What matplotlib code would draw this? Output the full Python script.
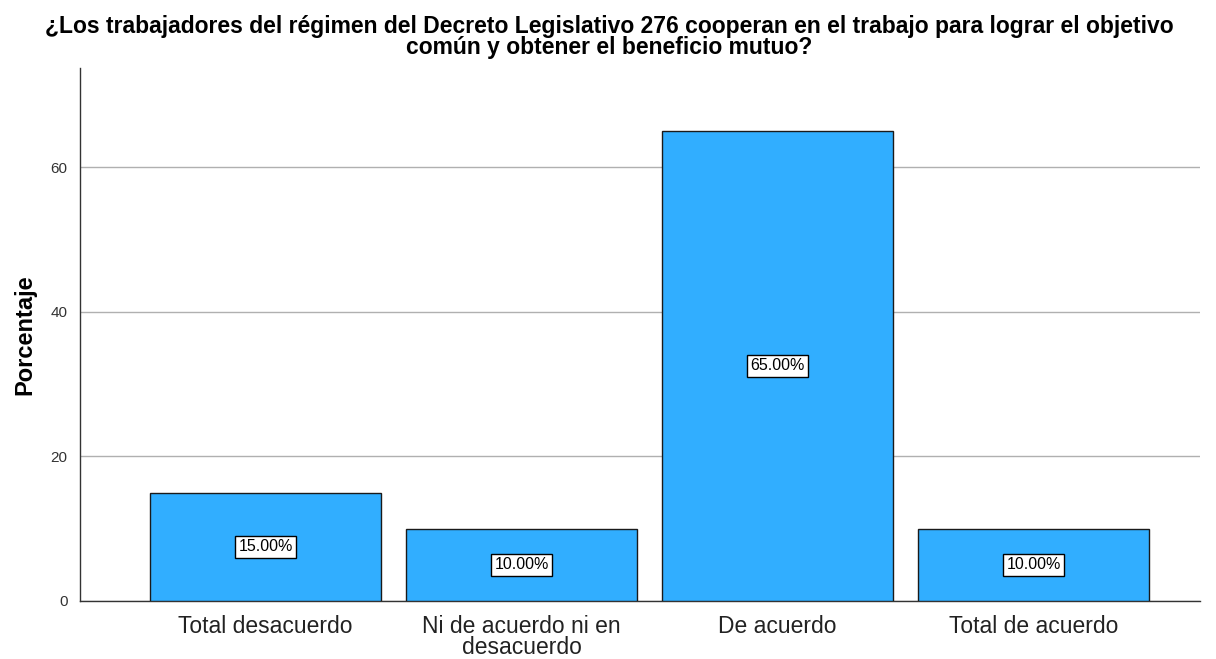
import matplotlib
matplotlib.use("Agg")
import matplotlib.pyplot as plt

categories = ["Total desacuerdo", "Ni de acuerdo ni en\ndesacuerdo", "De acuerdo", "Total de acuerdo"]
values = [15.0, 10.0, 65.0, 10.0]
labels = ["15.00%", "10.00%", "65.00%", "10.00%"]
yticks = [0, 20, 40, 60]
title = "¿Los trabajadores del régimen del Decreto Legislativo 276 cooperan en el trabajo para lograr el objetivo\ncomún y obtener el beneficio mutuo?"

plt.rcParams['font.family'] = ['Liberation Sans', 'DejaVu Sans']

fig = plt.figure(figsize=(12.16, 6.59), dpi=100)
ax = fig.add_axes([80/1216, 1-601/659, 1120/1216, (601-68)/659])

x = list(range(len(categories)))
ax.bar(x, values, width=0.902, color="#31AEFF", edgecolor="#1a1a1a", linewidth=1.0, zorder=3)
for xi, v, lab in zip(x, values, labels):
    ax.text(xi, v/2, lab, ha="center", va="center", fontsize=11.5, color="black", zorder=4,
            bbox=dict(boxstyle="square,pad=0.22", facecolor="white", edgecolor="black", linewidth=1))

ax.set_xlim(-0.7246, 3.65)
ax.set_ylim(0, 73.7)
ax.set_yticks(yticks)
ax.set_xticks(x)
ax.set_xticklabels(categories, fontsize=16.5, color="#222222", linespacing=0.88)
ax.tick_params(axis="x", length=0, pad=10)
ax.tick_params(axis="y", length=0, labelsize=11, pad=9, colors="#333333")
ax.grid(axis="y", color="#b0b0b0", linewidth=1, zorder=0)
for s in ["top", "right"]:
    ax.spines[s].set_visible(False)
for s in ["left", "bottom"]:
    ax.spines[s].set_color("#333333")
    ax.spines[s].set_linewidth(1)
ax.set_ylabel("Porcentaje", fontsize=17, fontweight="bold", labelpad=10)

fig.text(609/1216, 1-37/659, title, ha="center", va="center", fontsize=16.5, fontweight="bold", linespacing=0.85)

fig.savefig("out.png", dpi=100)
